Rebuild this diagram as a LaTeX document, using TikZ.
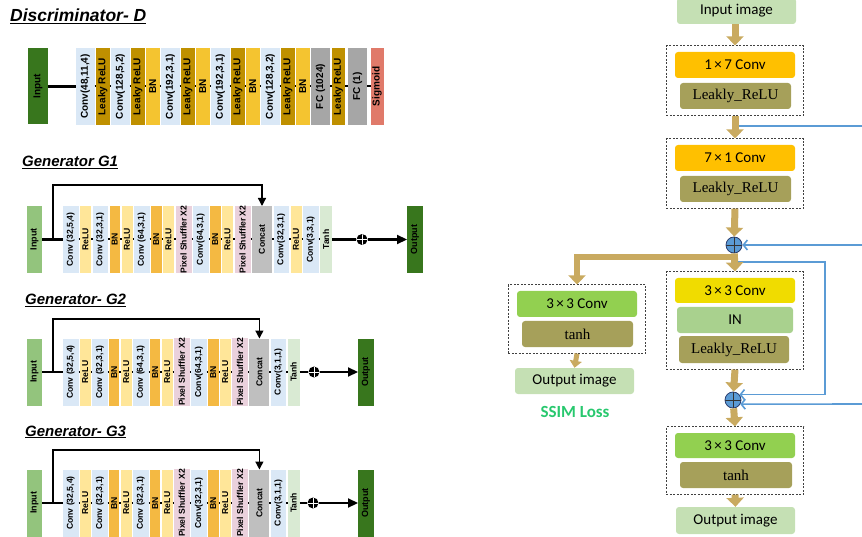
\documentclass[tikz,border=0pt]{standalone}
\usepackage{fontspec}
\setsansfont{Liberation Sans}
\newfontfamily\calfont{Carlito}
\newfontfamily\timesfont{Liberation Serif}
\usepackage{graphicx}
\usetikzlibrary{arrows.meta, positioning, fit}

\definecolor{convc}{RGB}{218,232,246}
\definecolor{dlreluc}{RGB}{191,144,0}
\definecolor{dbnc}{RGB}{244,196,48}
\definecolor{fcc}{RGB}{166,166,166}
\definecolor{sigc}{RGB}{224,122,106}
\definecolor{outc}{RGB}{56,118,29}
\definecolor{ginc}{RGB}{147,196,125}
\definecolor{reluc}{RGB}{255,230,153}
\definecolor{gbnc}{RGB}{244,185,66}
\definecolor{psc}{RGB}{234,209,220}
\definecolor{catc}{RGB}{191,191,191}
\definecolor{tanhc}{RGB}{217,234,211}
\definecolor{tanc}{RGB}{201,170,96}
\definecolor{olivec}{RGB}{166,160,90}
\definecolor{orangec}{RGB}{255,192,0}
\definecolor{yellowc}{RGB}{240,220,0}
\definecolor{greenc}{RGB}{146,208,80}
\definecolor{inc}{RGB}{169,209,142}
\definecolor{imgc}{RGB}{197,224,180}
\definecolor{bluec}{RGB}{91,155,213}
\definecolor{navyc}{RGB}{40,60,110}
\definecolor{ssimc}{RGB}{40,200,110}

\newcommand{\vlab}[1]{\rotatebox{90}{#1}}

\begin{document}
\begin{tikzpicture}[x=1pt,y=-1pt,node distance=1.5pt]
		\tikzstyle{title}=[anchor=base west, inner sep=0pt, font=\sffamily\bfseries\itshape\fontsize{17.5}{20}\selectfont]
		\tikzstyle{gtitle}=[title, font=\sffamily\bfseries\itshape\fontsize{15}{18}\selectfont]
		\tikzstyle{blk}=[inner sep=0pt, outer sep=0pt, minimum height=67pt, font=\sffamily\bfseries\fontsize{8.6}{9}\selectfont]
		\tikzstyle{gin}=[blk, fill=ginc, minimum width=15pt, font=\sffamily\bfseries\fontsize{9}{10}\selectfont]
		\tikzstyle{gconv}=[blk, fill=convc, minimum width=15.5pt]
		\tikzstyle{grelu}=[blk, fill=reluc, minimum width=11pt]
		\tikzstyle{gbn}=[blk, fill=gbnc, minimum width=10.5pt]
		\tikzstyle{gps}=[blk, fill=psc, minimum width=16pt]
		\tikzstyle{gcat}=[blk, fill=catc, minimum width=20pt]
		\tikzstyle{gtanh}=[blk, fill=tanhc, minimum width=12pt]
		\tikzstyle{gout}=[blk, fill=outc, minimum width=16pt, font=\sffamily\bfseries\fontsize{9}{10}\selectfont]
		\tikzstyle{dblk}=[blk, minimum height=77pt, font=\sffamily\bfseries\fontsize{10}{11}\selectfont]
		\tikzstyle{dinput}=[dblk, fill=outc, minimum width=20pt, minimum height=76pt]
		\tikzstyle{dconv}=[dblk, fill=convc, minimum width=18.5pt]
		\tikzstyle{dlrelu}=[dblk, fill=dlreluc, minimum width=13.5pt]
		\tikzstyle{dbn}=[dblk, fill=dbnc, minimum width=13.5pt]
		\tikzstyle{dfc}=[dblk, fill=fcc, minimum width=19pt]
		\tikzstyle{dsig}=[dblk, fill=sigc, minimum width=13pt]
		\tikzstyle{joint}=[line width=2pt]
		\tikzstyle{glink}=[line width=2.2pt]
		\tikzstyle{skip}=[line width=1.3pt, -{Triangle[length=8pt,width=8pt]}]
		\tikzstyle{gsum}=[circle, fill=black, minimum size=11pt, inner sep=0pt,
			path picture={\draw[white, line width=0.6pt] (path picture bounding box.north) -- (path picture bounding box.south) (path picture bounding box.west) -- (path picture bounding box.east);}]
		\tikzstyle{rbox}=[rounded corners=3pt, minimum width=120pt, minimum height=26pt, inner sep=0pt, font=\calfont\fontsize{15}{16}\selectfont]
		\tikzstyle{olivebox}=[rbox, fill=olivec, minimum width=111pt, font=\timesfont\fontsize{15}{16}\selectfont]
		\tikzstyle{dbox}=[draw=black!75, line width=0.8pt, dash pattern=on 2pt off 1.5pt, inner xsep=8.5pt, inner ysep=6pt]
		\tikzstyle{rsum}=[circle, draw=navyc, line width=0.8pt, fill=bluec, minimum size=16pt, inner sep=0pt,
			path picture={\draw[black!80, line width=0.9pt] (path picture bounding box.north) -- (path picture bounding box.south) (path picture bounding box.west) -- (path picture bounding box.east);}]
		\tikzstyle{tanarrow}=[draw=tanc, line width=7pt, -{Triangle[length=9pt,width=17pt]}]
		\tikzstyle{bline}=[draw=bluec, line width=1.6pt]
		\tikzstyle{barb}=[-{Straight Barb[length=4pt,width=10pt]}]
		
		\useasboundingbox (0,0) rectangle (862,537);
		
		% Discriminator
		\node[title] (tD) at (10,22) {\underline{Discriminator- D}};
		\node[dinput] (din) at (38,86.5) {\vlab{Input}};
		\node[dconv] (d1) at (85.25,86.5) {\vlab{Conv(48,11,4)}};
		\node[dlrelu] (d2) [right=of d1] {\vlab{Leaky ReLU}};
		\node[dconv] (d3) [right=of d2] {\vlab{Conv(128,5,2)}};
		\node[dlrelu] (d4) [right=of d3] {\vlab{Leaky ReLU}};
		\node[dbn] (d5) [right=of d4] {\vlab{BN}};
		\node[dconv] (d6) [right=of d5] {\vlab{Conv(192,3,1)}};
		\node[dlrelu] (d7) [right=of d6] {\vlab{Leaky ReLU}};
		\node[dbn] (d8) [right=of d7] {\vlab{BN}};
		\node[dconv] (d9) [right=of d8] {\vlab{Conv(192,3,1)}};
		\node[dlrelu] (d10) [right=of d9] {\vlab{Leaky ReLU}};
		\node[dbn] (d11) [right=of d10] {\vlab{BN}};
		\node[dconv] (d12) [right=of d11] {\vlab{Conv(128,3,2)}};
		\node[dlrelu] (d13) [right=of d12] {\vlab{Leaky ReLU}};
		\node[dbn] (d14) [right=of d13] {\vlab{BN}};
		\node[dfc] (d15) [right=of d14] {\vlab{FC (1024)}};
		\node[dlrelu] (d16) [right=of d15] {\vlab{Leaky ReLU}};
		\node[dfc] (d17) [right=3pt of d16] {\vlab{FC (1)}};
		\node[dsig] (d18) [right=3.5pt of d17] {\vlab{Sigmoid}};
		
		\draw[line width=3.5pt] (din) -- (d1);
		\foreach \i [count=\j from 2] in {1,...,17}
			\draw[joint] (d\i) -- (d\j);
		
		% Generator G1
		\node[gtitle] (tG1) at (22,167) {\underline{Generator G1}};
		\node[gin] (g1in) at (34.5,239.5) {\vlab{Input}};
		\node[gconv] (g1b1) at (70.75,239.5) {\vlab{Conv (32,5,4)}};
		\node[grelu] (g1b2) [right=of g1b1] {\vlab{ReLU}};
		\node[gconv] (g1b3) [right=of g1b2] {\vlab{Conv (32,3,1)}};
		\node[gbn] (g1b4) [right=of g1b3] {\vlab{BN}};
		\node[grelu] (g1b5) [right=of g1b4] {\vlab{ReLU}};
		\node[gconv] (g1b6) [right=of g1b5] {\vlab{Conv (64,3,1)}};
		\node[gbn] (g1b7) [right=of g1b6] {\vlab{BN}};
		\node[grelu] (g1b8) [right=of g1b7] {\vlab{ReLU}};
		\node[gps] (g1b9) [right=of g1b8] {\vlab{Pixel Shuffler X2}};
		\node[gconv] (g1b10) [right=of g1b9] {\vlab{Conv(64,3,1)}};
		\node[gbn] (g1b11) [right=of g1b10] {\vlab{BN}};
		\node[grelu] (g1b12) [right=of g1b11] {\vlab{ReLU}};
		\node[gps] (g1b13) [right=of g1b12] {\vlab{Pixel Shuffler X2}};
		\node[gcat] (g1b14) [right=of g1b13] {\vlab{Concat}};
		\node[gconv] (g1b15) [right=of g1b14] {\vlab{Conv(32,3,1)}};
		\node[grelu] (g1b16) [right=of g1b15] {\vlab{ReLU}};
		\node[gconv] (g1b17) [right=of g1b16] {\vlab{Conv(3,3,1)}};
		\node[gtanh] (g1b18) [right=of g1b17] {\vlab{Tanh}};
		\node[gsum] (g1sum) at (362,239.5) {};
		\node[gout] (g1out) at (415,239.5) {\vlab{Output}};
		\coordinate (g1top) at (53,185);
		
		\draw[glink] (g1in) -- (g1b1);
		\draw[skip] (g1top |- g1in) -- (g1top) -| (g1b14.north);
		\foreach \i [count=\j from 2] in {1,...,17}
			\draw[joint] (g1b\i) -- (g1b\j);
		\draw[glink] (g1b18) -- (g1sum);
		\draw[glink, -{Triangle[length=10pt,width=9pt]}] (g1sum) -- (g1out);
		
		% Generator G2
		\begin{scope}[node distance=1.3pt]
		\node[gtitle] (tG2) at (25,305) {\underline{Generator- G2}};
		\node[gin] (g2in) at (34.5,372) {\vlab{Input}};
		\node[gconv] (g2b1) at (70.75,372) {\vlab{Conv (32,5,4)}};
		\node[grelu] (g2b2) [right=of g2b1] {\vlab{ReLU}};
		\node[gconv] (g2b3) [right=of g2b2] {\vlab{Conv (32,3,1)}};
		\node[gbn] (g2b4) [right=of g2b3] {\vlab{BN}};
		\node[grelu] (g2b5) [right=of g2b4] {\vlab{ReLU}};
		\node[gconv] (g2b6) [right=of g2b5] {\vlab{Conv (64,3,1)}};
		\node[gbn] (g2b7) [right=of g2b6] {\vlab{BN}};
		\node[grelu] (g2b8) [right=of g2b7] {\vlab{ReLU}};
		\node[gps] (g2b9) [right=of g2b8] {\vlab{Pixel Shuffler X2}};
		\node[gconv] (g2b10) [right=of g2b9] {\vlab{Conv(64,3,1)}};
		\node[gbn] (g2b11) [right=of g2b10] {\vlab{BN}};
		\node[grelu] (g2b12) [right=of g2b11] {\vlab{ReLU}};
		\node[gps] (g2b13) [right=of g2b12] {\vlab{Pixel Shuffler X2}};
		\node[gcat] (g2b14) [right=of g2b13] {\vlab{Concat}};
		\node[gconv] (g2b15) [right=of g2b14] {\vlab{Conv(3,1,1)}};
		\node[gtanh] (g2b16) [right=of g2b15] {\vlab{Tanh}};
		\node[gsum] (g2sum) at (314,372) {};
		\node[gout] (g2out) at (366,372) {\vlab{Output}};
		\coordinate (g2top) at (53,319);
		\end{scope}
		
		\draw[glink] (g2in) -- (g2b1);
		\draw[skip] (g2top |- g2in) -- (g2top) -| (g2b14.north);
		\foreach \i [count=\j from 2] in {1,...,15}
			\draw[joint] (g2b\i) -- (g2b\j);
		\draw[glink] (g2b16) -- (g2sum);
		\draw[glink, -{Triangle[length=10pt,width=9pt]}] (g2sum) -- (g2out);
		
		% Generator G3
		\begin{scope}[node distance=1.3pt]
		\node[gtitle] (tG3) at (25,436) {\underline{Generator- G3}};
		\node[gin] (g3in) at (34.5,503) {\vlab{Input}};
		\node[gconv] (g3b1) at (70.75,503) {\vlab{Conv (32,5,4)}};
		\node[grelu] (g3b2) [right=of g3b1] {\vlab{ReLU}};
		\node[gconv] (g3b3) [right=of g3b2] {\vlab{Conv (32,3,1)}};
		\node[gbn] (g3b4) [right=of g3b3] {\vlab{BN}};
		\node[grelu] (g3b5) [right=of g3b4] {\vlab{ReLU}};
		\node[gconv] (g3b6) [right=of g3b5] {\vlab{Conv (32,3,1)}};
		\node[gbn] (g3b7) [right=of g3b6] {\vlab{BN}};
		\node[grelu] (g3b8) [right=of g3b7] {\vlab{ReLU}};
		\node[gps] (g3b9) [right=of g3b8] {\vlab{Pixel Shuffler X2}};
		\node[gconv] (g3b10) [right=of g3b9] {\vlab{Conv(32,3,1)}};
		\node[gbn] (g3b11) [right=of g3b10] {\vlab{BN}};
		\node[grelu] (g3b12) [right=of g3b11] {\vlab{ReLU}};
		\node[gps] (g3b13) [right=of g3b12] {\vlab{Pixel Shuffler X2}};
		\node[gcat] (g3b14) [right=of g3b13] {\vlab{Concat}};
		\node[gconv] (g3b15) [right=of g3b14] {\vlab{Conv(3,1,1)}};
		\node[gtanh] (g3b16) [right=of g3b15] {\vlab{Tanh}};
		\node[gsum] (g3sum) at (313,503) {};
		\node[gout] (g3out) at (366,503) {\vlab{Output}};
		\coordinate (g3top) at (53,450);
		\end{scope}
		
		\draw[glink] (g3in) -- (g3b1);
		\draw[skip] (g3top |- g3in) -- (g3top) -| (g3b14.north);
		\foreach \i [count=\j from 2] in {1,...,15}
			\draw[joint] (g3b\i) -- (g3b\j);
		\draw[glink] (g3b16) -- (g3sum);
		\draw[glink, -{Triangle[length=10pt,width=9pt]}] (g3sum) -- (g3out);
		
		% Right-hand network
		\node[rbox, fill=imgc, minimum width=119pt] (inimg) at (736.5,11) {Input image};
		\node[rbox, fill=orangec] (conv17) at (735,65) {1\,×\,7 Conv};
		\node[olivebox] (lrelu1) at (735.5,96) {Leakly\_ReLU};
		\node[dbox, fit=(conv17)(lrelu1)] (box1) {};
		\node[rbox, fill=orangec] (conv71) at (735,158) {7\,×\,1 Conv};
		\node[olivebox] (lrelu2) at (735.5,189) {Leakly\_ReLU};
		\node[dbox, fit=(conv71)(lrelu2)] (box2) {};
		\node[rsum] (sum1) at (734,245) {};
		
		\node[rbox, fill=greenc] (conv33a) at (577,304) {3\,×\,3 Conv};
		\node[olivebox] (tanh1) at (577.5,334) {tanh};
		\node[dbox, fit=(conv33a)(tanh1)] (box3) {};
		\node[rbox, fill=imgc, minimum width=119pt] (outimg1) at (574.5,381) {Output image};
		\node[text=ssimc, font=\calfont\bfseries\fontsize{17}{18}\selectfont] (ssim) at (575,412) {SSIM Loss};
		
		\node[rbox, fill=yellowc, minimum height=25pt] (conv33b) at (735,290.5) {3\,×\,3 Conv};
		\node[rbox, fill=inc, minimum width=116pt] (inorm) at (735,320) {IN};
		\node[olivebox, minimum width=110pt, minimum height=27pt] (lrelu3) at (734,349.5) {Leakly\_ReLU};
		\node[dbox, fit=(conv33b)(lrelu3)] (box4) {};
		\node[rsum] (sum2) at (733,400) {};
		
		\node[rbox, fill=greenc, minimum height=25pt] (conv33c) at (735,445.5) {3\,×\,3 Conv};
		\node[olivebox, minimum width=112pt] (tanh2) at (736,475) {tanh};
		\node[dbox, fit=(conv33c)(tanh2)] (box5) {};
		\node[rbox, fill=imgc, minimum width=119pt, minimum height=27pt] (outimg2) at (735.5,520.5) {Output image};
		
		\coordinate (bs1) at (738,126);
		\coordinate (e1) at (862,126);
		\coordinate (e2) at (862,245);
		\coordinate (bs2) at (738,262);
		\coordinate (bc2) at (825,262);
		\coordinate (e3) at (862,404);
		\coordinate (brj) at (738,257);
		
		\draw[bline] (bs1) -- (e1);
		\draw[bline, barb] (e2) -- (sum1);
		\draw[bline, barb] (bs2) -- (bc2) |- (sum2.40);
		\draw[bline, barb] (e3) -- (sum2.-30);
		
		\draw[tanarrow] (box1.north |- inimg.south) -- (box1.north);
		\draw[tanarrow] (box1.south) -- (box2.north);
		\draw[tanarrow] (box2.south) -- (sum1);
		\draw[tanarrow] (sum1) -- (box4.north);
		\draw[tanarrow, line width=6.5pt] (brj) -| (box3.north);
		\draw[tanarrow, line width=5pt, -{Triangle[length=7pt,width=12pt]}] (box3.south) -- (outimg1.north);
		\draw[tanarrow] (box4.south) -- (sum2);
		\draw[tanarrow] (sum2) -- (box5.north);
		\draw[tanarrow] (box5.south) -- (outimg2.north);
		
\end{tikzpicture}
\end{document}
